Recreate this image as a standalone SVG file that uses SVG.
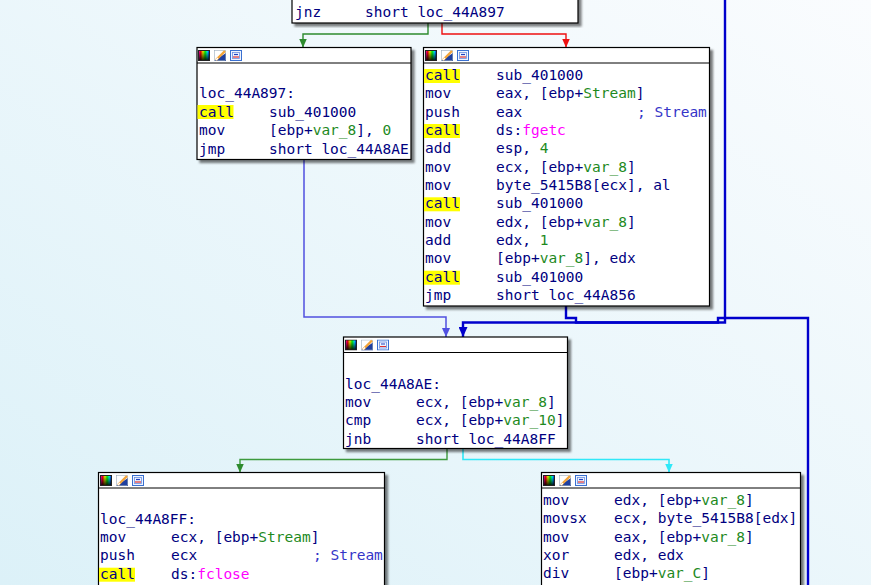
<svg xmlns="http://www.w3.org/2000/svg" width="871" height="585" viewBox="0 0 871 585">
<defs>
<linearGradient id="bg" x1="1" y1="0" x2="0" y2="1">
<stop offset="0" stop-color="#fafcfe"/>
<stop offset="1" stop-color="#dcf1f8"/>
</linearGradient>
<linearGradient id="hue" x1="0" y1="0" x2="1" y2="0">
<stop offset="0" stop-color="#ff00ff"/>
<stop offset="0.2" stop-color="#ff0000"/>
<stop offset="0.4" stop-color="#ffff00"/>
<stop offset="0.6" stop-color="#00ff00"/>
<stop offset="0.8" stop-color="#00ffff"/>
<stop offset="1" stop-color="#0000ff"/>
</linearGradient>
<linearGradient id="dark" x1="0" y1="0" x2="0" y2="1">
<stop offset="0" stop-color="#000" stop-opacity="0"/>
<stop offset="1" stop-color="#000" stop-opacity="0.9"/>
</linearGradient>
<filter id="sh" x="-5%" y="-5%" width="115%" height="120%">
<feDropShadow dx="3" dy="3" stdDeviation="1.3" flood-color="#000" flood-opacity="0.5"/>
</filter>
<symbol id="icons" viewBox="0 0 45 11" width="45" height="11">
<rect x="0.5" y="0.5" width="11" height="10" fill="url(#hue)"/>
<rect x="0.5" y="0.5" width="11" height="10" fill="url(#dark)" stroke="#222" stroke-width="1"/>
<polygon points="16,11 28,3 28,11" fill="#1f3f9f"/>
<rect x="16.5" y="0.5" width="11" height="10" fill="none" stroke="#9ab" stroke-width="0.6"/>
<line x1="18" y1="10" x2="27" y2="1" stroke="#f3a43a" stroke-width="2.4"/>
<line x1="18" y1="10" x2="20" y2="8" stroke="#fff" stroke-width="1.5"/>
<rect x="32.5" y="0.5" width="11" height="10" fill="#eef4ff" stroke="#3a70d0" stroke-width="1"/>
<rect x="34.5" y="2.5" width="7" height="6" fill="none" stroke="#6a90e0" stroke-width="0.8"/>
<line x1="36" y1="4.5" x2="40" y2="4.5" stroke="#2040c0" stroke-width="1.2"/>
<line x1="35" y1="7" x2="41" y2="7" stroke="#e03030" stroke-width="1.2"/>
</symbol>
<marker id="aG" markerUnits="userSpaceOnUse" markerWidth="9" markerHeight="8" viewBox="0 0 9 8" refX="9" refY="4" orient="auto"><path d="M0,0 L9,4 L0,8 z" fill="#2e8b2e"/></marker>
<marker id="aR" markerUnits="userSpaceOnUse" markerWidth="9" markerHeight="8" viewBox="0 0 9 8" refX="9" refY="4" orient="auto"><path d="M0,0 L9,4 L0,8 z" fill="#ee1010"/></marker>
<marker id="aL" markerUnits="userSpaceOnUse" markerWidth="9" markerHeight="8" viewBox="0 0 9 8" refX="9" refY="4" orient="auto"><path d="M0,0 L9,4 L0,8 z" fill="#5050e0"/></marker>
<marker id="aB" markerUnits="userSpaceOnUse" markerWidth="10" markerHeight="9" viewBox="0 0 10 9" refX="10" refY="4.5" orient="auto"><path d="M0,0 L10,4.5 L0,9 z" fill="#0000cc"/></marker>
<marker id="aC" markerUnits="userSpaceOnUse" markerWidth="9" markerHeight="8" viewBox="0 0 9 8" refX="9" refY="4" orient="auto"><path d="M0,0 L9,4 L0,8 z" fill="#30e8f8"/></marker>
</defs>
<style>
text{font-family:"DejaVu Sans Mono","Liberation Mono",monospace;font-size:14.5px;fill:#000080;}
.g{fill:#1e8a1e;}
.c{fill:#3535c8;}
.f{fill:#ff00ff;}
.box{fill:#fff;stroke:#000;stroke-width:1.2;filter:url(#sh);}
.sep{stroke:#000;stroke-width:1;}
.hl{fill:#ffff00;}
.e{fill:none;stroke-linejoin:miter;}
</style>
<rect width="871" height="585" fill="url(#bg)"/>

<g id="connectors">
<path class="e" d="M428,23 V34 H303 V47.5" stroke="#2e8b2e" stroke-width="1.4" marker-end="url(#aG)"/>
<path class="e" d="M442,23 V34 H566 V47.5" stroke="#ee1010" stroke-width="1.4" marker-end="url(#aR)"/>
<path class="e" d="M304,159 V317 H446 V337" stroke="#5050e0" stroke-width="1.5" marker-end="url(#aL)"/>
<path class="e" d="M566,306 V318 H576 V322.5 H725 V0" stroke="#0000cc" stroke-width="2.4"/>
<path class="e" d="M808,585 V318 H718 V322.5 H463 V337" stroke="#0000cc" stroke-width="2.4" marker-end="url(#aB)"/>
<path class="e" d="M447,448 V459.5 H240 V472.5" stroke="#3d9a3d" stroke-width="1.4" marker-end="url(#aG)"/>
<path class="e" d="M463,448 V459.5 H669 V472.5" stroke="#30e8f8" stroke-width="1.6" marker-end="url(#aC)"/>
</g>

<g id="node_top">
<rect class="box" x="292" y="-10" width="286" height="33"/>
<text x="295" y="17">jnz</text><text x="365" y="17">short loc_44A897</text>
</g>

<g id="node_loc_44A897">
<rect class="box" x="197" y="47.5" width="214" height="112"/>
<line class="sep" x1="197" y1="63" x2="411" y2="63"/>
<use href="#icons" x="198" y="50"/>
<text x="199" y="98">loc_44A897:</text>
<rect class="hl" x="197.5" y="105" width="36" height="14"/>
<text x="199" y="116.5">call</text><text x="269" y="116.5">sub_401000</text>
<text x="199" y="135">mov</text><text x="269" y="135">[ebp+<tspan class="g">var_8</tspan>], <tspan class="g">0</tspan></text>
<text x="199" y="153.5">jmp</text><text x="269" y="153.5">short loc_44A8AE</text>
</g>

<g id="node_fgetc">
<rect class="box" x="423.5" y="47.5" width="286" height="258.5"/>
<line class="sep" x1="423.5" y1="63" x2="709.5" y2="63"/>
<use href="#icons" x="425" y="50"/>
<rect class="hl" x="424" y="69" width="36" height="14"/>
<text x="425" y="80">call</text><text x="496" y="80">sub_401000</text>
<text x="425" y="98.3">mov</text><text x="496" y="98.3">eax, [ebp+<tspan class="g">Stream</tspan>]</text>
<text x="425" y="116.7">push</text><text x="496" y="116.7">eax</text><text class="c" x="637" y="116.7">; Stream</text>
<rect class="hl" x="424" y="124" width="36" height="14"/>
<text x="425" y="135">call</text><text x="496" y="135">ds:<tspan class="f">fgetc</tspan></text>
<text x="425" y="153.3">add</text><text x="496" y="153.3">esp, <tspan class="g">4</tspan></text>
<text x="425" y="171.7">mov</text><text x="496" y="171.7">ecx, [ebp+<tspan class="g">var_8</tspan>]</text>
<text x="425" y="190">mov</text><text x="496" y="190">byte_5415B8[ecx], al</text>
<rect class="hl" x="424" y="197.3" width="36" height="14"/>
<text x="425" y="208.3">call</text><text x="496" y="208.3">sub_401000</text>
<text x="425" y="226.7">mov</text><text x="496" y="226.7">edx, [ebp+<tspan class="g">var_8</tspan>]</text>
<text x="425" y="245">add</text><text x="496" y="245">edx, <tspan class="g">1</tspan></text>
<text x="425" y="263.3">mov</text><text x="496" y="263.3">[ebp+<tspan class="g">var_8</tspan>], edx</text>
<rect class="hl" x="424" y="270.7" width="36" height="14"/>
<text x="425" y="281.7">call</text><text x="496" y="281.7">sub_401000</text>
<text x="425" y="300">jmp</text><text x="496" y="300">short loc_44A856</text>
</g>

<g id="node_loc_44A8AE">
<rect class="box" x="343.5" y="337" width="224" height="111.5"/>
<line class="sep" x1="343.5" y1="352.5" x2="567.5" y2="352.5"/>
<use href="#icons" x="345" y="339.5"/>
<text x="345" y="388.5">loc_44A8AE:</text>
<text x="345" y="407">mov</text><text x="416" y="407">ecx, [ebp+<tspan class="g">var_8</tspan>]</text>
<text x="345" y="425.3">cmp</text><text x="416" y="425.3">ecx, [ebp+<tspan class="g">var_10</tspan>]</text>
<text x="345" y="443.7">jnb</text><text x="416" y="443.7">short loc_44A8FF</text>
</g>

<g id="node_loc_44A8FF">
<rect class="box" x="98.5" y="472.5" width="286" height="140"/>
<line class="sep" x1="98.5" y1="488" x2="384.5" y2="488"/>
<use href="#icons" x="100" y="475"/>
<text x="100" y="523.5">loc_44A8FF:</text>
<text x="100" y="542">mov</text><text x="171" y="542">ecx, [ebp+<tspan class="g">Stream</tspan>]</text>
<text x="100" y="560.3">push</text><text x="171" y="560.3">ecx</text><text class="c" x="313" y="560.3">; Stream</text>
<rect class="hl" x="99" y="567.7" width="36" height="14"/>
<text x="100" y="578.7">call</text><text x="171" y="578.7">ds:<tspan class="f">fclose</tspan></text>
</g>

<g id="node_div">
<rect class="box" x="541.5" y="472.5" width="259" height="140"/>
<line class="sep" x1="541.5" y1="488" x2="800.5" y2="488"/>
<use href="#icons" x="543" y="475"/>
<text x="543" y="505">mov</text><text x="614" y="505">edx, [ebp+<tspan class="g">var_8</tspan>]</text>
<text x="543" y="523.3">movsx</text><text x="614" y="523.3">ecx, byte_5415B8[edx]</text>
<text x="543" y="541.7">mov</text><text x="614" y="541.7">eax, [ebp+<tspan class="g">var_8</tspan>]</text>
<text x="543" y="560">xor</text><text x="614" y="560">edx, edx</text>
<text x="543" y="578.3">div</text><text x="614" y="578.3">[ebp+<tspan class="g">var_C</tspan>]</text>
</g>
</svg>
